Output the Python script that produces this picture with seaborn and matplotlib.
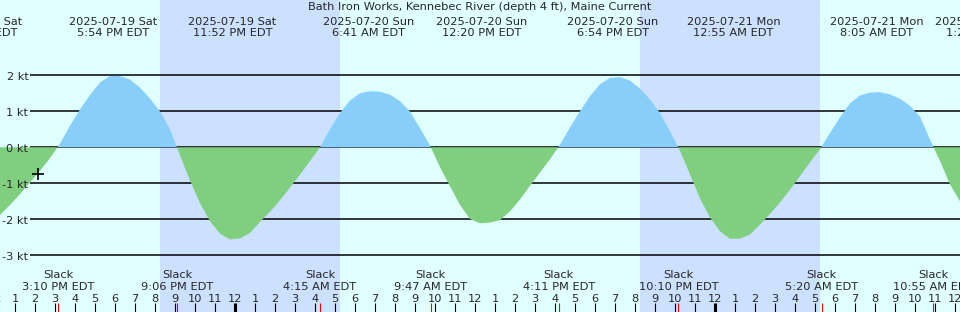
import numpy as np
import pandas as pd
import seaborn as sns
import matplotlib
matplotlib.use("Agg")
import matplotlib.pyplot as plt

sns.set_style("white")
plt.rcParams['font.family'] = ['DejaVu Sans']

# --- data ---
title = "Bath Iron Works, Kennebec River (depth 4 ft), Maine Current"

# current speed (kt) every 30 min starting 2025-07-19 12:15 EDT, + flood / - ebb
start = "2025-07-19 12:15"
speed = [-1.88, -1.60, -1.30, -0.98, -0.65, -0.30, 0.10, 0.60, 1.05, 1.45,
         1.80, 1.98, 1.98, 1.88, 1.66, 1.35, 1.00, 0.50, -0.22, -0.92,
         -1.55, -2.05, -2.40, -2.56, -2.53, -2.38, -2.07, -1.79, -1.47, -1.12,
         -0.76, -0.38, 0.00, 0.50, 0.95, 1.30, 1.50, 1.56, 1.54, 1.46,
         1.28, 0.99, 0.53, 0.05, -0.55, -1.08, -1.60, -1.99, -2.11, -2.09,
         -2.02, -1.78, -1.45, -1.07, -0.70, -0.33, 0.07, 0.55, 1.00, 1.42,
         1.75, 1.93, 1.95, 1.85, 1.63, 1.33, 0.95, 0.45, -0.10, -0.75,
         -1.42, -1.95, -2.33, -2.54, -2.54, -2.42, -2.15, -1.85, -1.53, -1.18,
         -0.80, -0.42, -0.05, 0.40, 0.83, 1.22, 1.44, 1.52, 1.53, 1.47,
         1.35, 1.15, 0.85, 0.22, -0.38, -1.03, -1.50]

# max flood / max ebb times (top labels)
peak_times = ["2025-07-19 11:08", "2025-07-19 17:54", "2025-07-19 23:52",
              "2025-07-20 06:41", "2025-07-20 12:20", "2025-07-20 18:54",
              "2025-07-21 00:55", "2025-07-21 08:05", "2025-07-21 13:21"]

# slack water times (bottom labels)
slack_times = ["2025-07-19 15:10", "2025-07-19 21:06", "2025-07-20 04:15",
               "2025-07-20 09:47", "2025-07-20 16:11", "2025-07-20 22:10",
               "2025-07-21 05:20", "2025-07-21 10:55"]

# night (sunset -> sunrise)
night_start = ["2025-07-19 20:15", "2025-07-20 20:15"]
night_end = ["2025-07-20 05:15", "2025-07-21 05:15"]

kt_levels = [2, 1, 0, -1, -2, -3]
kt_labels = ["2 kt", "1 kt", "0 kt", "-1 kt", "-2 kt", "-3 kt"]

now_time = "2025-07-19 14:09"
now_speed = -0.75

# --- helpers ---
t0 = pd.Timestamp("2025-07-20 00:00")
def hrs(t):
    return (pd.to_datetime(t) - t0) / pd.Timedelta(hours=1)

H = 312.0
def py(p):  # pixel row -> axes fraction
    return 1 - p / H

bg = "#E0FFFF"
night_col = "#CCE0FF"
flood_col = "#87CEFA"
ebb_col = "#7FCF7F"
fs = 8.2

x0, x1 = hrs("2025-07-19 12:15"), hrs("2025-07-21 12:15")
times = pd.date_range(start, periods=len(speed), freq="30min")
df = pd.DataFrame({"hour": hrs(times), "speed": speed})

fig = plt.figure(figsize=(9.6, 3.12), dpi=100, facecolor=bg)
ax = fig.add_axes([0, 0, 1, 1])
ax.set_xlim(x0, x1)
ax.set_ylim((147.3 - H) / 36, 147.3 / 36)
ax.axis("off")
tr = ax.get_xaxis_transform()

for a, b in zip(night_start, night_end):
    ax.axvspan(hrs(a), hrs(b), color=night_col, lw=0, zorder=0)

ax.hlines(kt_levels, x0 + 30 / 20, x1, colors="black", lw=1.1, zorder=1)
for lv, lab in zip(kt_levels, kt_labels):
    ax.text(x0 + 28.5 / 20, lv - 0.12, lab, ha="right", va="baseline", fontsize=fs)

s = df["speed"].to_numpy()
ax.fill_between(df["hour"], s, 0, where=s >= 0, interpolate=True,
                color=flood_col, lw=0, zorder=2)
ax.fill_between(df["hour"], s, 0, where=s <= 0, interpolate=True,
                color=ebb_col, lw=0, zorder=2)

sns.scatterplot(x=[hrs(now_time)], y=[now_speed], marker="+", s=70,
                color="black", linewidth=1.2, ax=ax, zorder=4)

ax.text(0.5, py(10), title, transform=ax.transAxes,
        ha="center", va="baseline", fontsize=fs)

for t in peak_times:
    ts = pd.Timestamp(t)
    ax.text(hrs(ts), py(25), ts.strftime("%Y-%m-%d %a"), transform=tr,
            ha="center", va="baseline", fontsize=fs)
    ax.text(hrs(ts), py(36), ts.strftime("%-I:%M %p EDT"), transform=tr,
            ha="center", va="baseline", fontsize=fs)

for t in slack_times:
    ts = pd.Timestamp(t)
    ax.text(hrs(ts), py(278), "Slack", transform=tr,
            ha="center", va="baseline", fontsize=fs)
    ax.text(hrs(ts), py(290), ts.strftime("%-I:%M %p EDT"), transform=tr,
            ha="center", va="baseline", fontsize=fs)

hours = pd.date_range("2025-07-19 12:00", "2025-07-21 12:00", freq="h")
for h in hours:
    ax.text(hrs(h), py(302), h.strftime("%-I"), transform=tr,
            ha="center", va="baseline", fontsize=fs)
    lw = 2.2 if h.hour == 0 else 0.8
    ax.vlines(hrs(h), 0, py(302.7), transform=tr, colors="black", lw=lw, zorder=3)

ax.vlines([hrs(t) for t in slack_times], 0, py(302.7), transform=tr,
          colors="red", lw=0.8, zorder=3)

fig.savefig("out.png", dpi=100, facecolor=bg)
